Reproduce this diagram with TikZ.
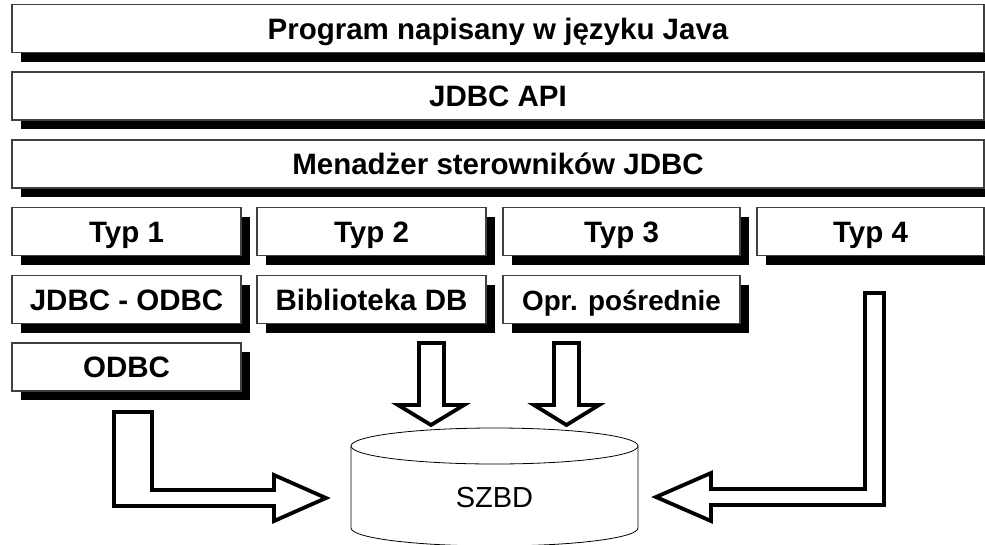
\documentclass[tikz,border=0pt]{standalone}
\usepackage{fontspec}
\setmainfont{Liberation Sans}
\usetikzlibrary{shadows}
\begin{document}
\begin{tikzpicture}[x=1pt,y=-1pt,
  layer/.style={draw=black!75, line width=1.2pt, fill=white,
    minimum height=48pt, inner sep=0pt, text height=21pt, text depth=0pt,
    drop shadow={shadow xshift=9pt, shadow yshift=-9pt, opacity=1, fill=black},
    font=\fontsize{29.5}{30}\selectfont\bfseries},
  wide/.style={layer, minimum width=972pt},
  blockarrow/.style={draw=black, line width=3.8pt, fill=white, line join=miter},
  dbline/.style={draw=black, line width=0.8pt}]
\useasboundingbox (0,0) rectangle (985,544);

% protocol stack
\node[wide] (prog) at (498,28.5) {Program napisany w języku Java};
\node[wide] (api)  at (498,96)   {JDBC API};
\node[wide] (mgr)  at (498,164)  {Menadżer sterowników JDBC};

% driver types
\node[layer, minimum width=229pt] (t1) at (126.5,231.5) {Typ 1};
\node[layer, minimum width=229pt] (t2) at (371.5,231.5) {Typ 2};
\node[layer, minimum width=237pt] (t3) at (621.5,231.5) {Typ 3};
\node[layer, minimum width=227pt] (t4) at (870.5,231.5) {Typ 4};

\node[layer, minimum width=229pt] (jo)  at (126.5,299.5) {JDBC - ODBC};
\node[layer, minimum width=229pt] (lib) at (371.5,299.5) {Biblioteka DB};
\node[layer, minimum width=237pt, font=\fontsize{27.8}{30}\selectfont\bfseries] (mid) at (621.5,299.5) {Opr. pośrednie};
\node[layer, minimum width=229pt] (odbc) at (126.5,367) {ODBC};

% database
\fill[white] (351,446) -- (351,528) arc[start angle=180, end angle=0, x radius=143.5, y radius=18] -- (638,446) -- cycle;
\draw[dbline] (351,446) -- (351,528) arc[start angle=180, end angle=0, x radius=143.5, y radius=18] -- (638,446);
\draw[dbline, fill=white] (494.5,446) ellipse [x radius=143.5, y radius=18];
\node[font=\fontsize{29}{30}\selectfont] (db) at (494.5,498) {SZBD};

% block arrows into the database
\draw[blockarrow] (114,412) -- (152,412) -- (152,490) -- (274,490) -- (274,475)
  -- (326,498) -- (274,521) -- (274,506) -- (114,506) -- cycle;
\draw[blockarrow] (419,343) -- (444,343) -- (444,405) -- (464,405) -- (431,425)
  -- (398,405) -- (419,405) -- cycle;
\draw[blockarrow] (554,343) -- (579,343) -- (579,405) -- (599,405) -- (566.5,425)
  -- (534,405) -- (554,405) -- cycle;
\draw[blockarrow] (865,293) -- (884,293) -- (884,505) -- (711,505) -- (711,521)
  -- (656,497) -- (711,473) -- (711,489) -- (865,489) -- cycle;
\end{tikzpicture}
\end{document}
